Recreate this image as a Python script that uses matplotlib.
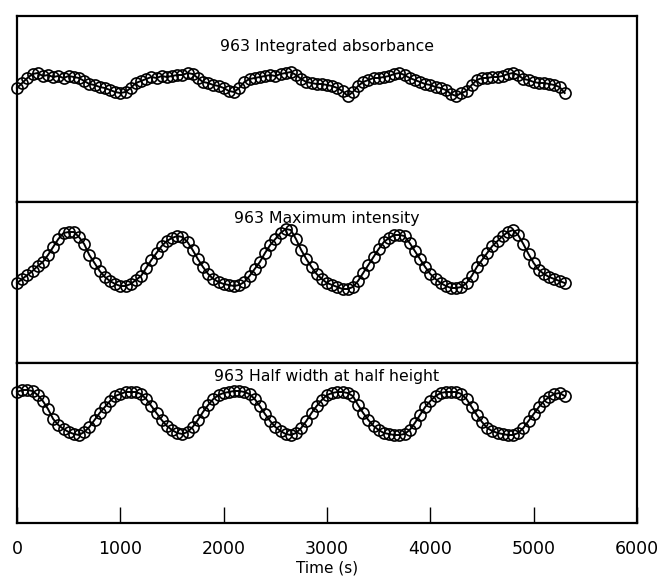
import numpy as np
import matplotlib
matplotlib.use("Agg")
import matplotlib.pyplot as plt

# sampling times (s), one reading every 50 s
time_s = np.arange(0, 5301, 50)

# values (arbitrary units, panel height = 186 / 161 / 160)
integrated_absorbance = [
    114, 119, 124, 128, 129, 126, 127, 125, 126, 124,
    126, 125, 124, 121, 118, 117, 115, 114, 112, 110,
    109, 110, 114, 119, 121, 123, 125, 124, 126, 125,
    126, 127, 127, 129, 128, 124, 120, 119, 117, 116,
    114, 111, 110, 114, 120, 123, 124, 125, 126, 127,
    126, 128, 129, 130, 127, 123, 120, 119, 118, 118,
    117, 116, 114, 111, 106, 110, 116, 120, 122, 124,
    124, 125, 126, 128, 129, 127, 124, 122, 120, 118,
    117, 115, 114, 112, 108, 106, 109, 111, 117, 122,
    124, 124, 125, 125, 126, 128, 129, 127, 123, 122,
    120, 119, 119, 118, 117, 115, 109,
]

maximum_intensity = [
    80, 84, 88, 92, 97, 101, 108, 116, 124, 130,
    131, 131, 126, 119, 108, 100, 92, 86, 82, 79,
    77, 77, 79, 83, 87, 95, 103, 110, 117, 122,
    125, 127, 126, 121, 113, 104, 96, 89, 84, 81,
    79, 78, 77, 78, 81, 87, 94, 101, 110, 118,
    124, 130, 134, 133, 124, 113, 104, 96, 89, 84,
    80, 78, 76, 74, 74, 76, 82, 90, 98, 106,
    114, 121, 125, 128, 128, 127, 120, 112, 104, 96,
    89, 84, 80, 77, 75, 75, 76, 80, 87, 96,
    103, 110, 117, 122, 127, 131, 133, 128, 119, 109,
    100, 93, 89, 86, 84, 82, 80,
]

half_width = [
    131, 133, 133, 132, 128, 122, 114, 104, 98, 94,
    91, 89, 88, 91, 96, 103, 110, 116, 122, 127,
    129, 131, 131, 131, 129, 124, 117, 110, 103, 97,
    93, 90, 89, 91, 96, 103, 111, 118, 124, 128,
    130, 131, 132, 132, 131, 129, 124, 117, 109, 102,
    96, 92, 89, 88, 90, 95, 102, 110, 117, 123,
    128, 130, 131, 131, 130, 127, 118, 110, 103, 97,
    93, 90, 89, 88, 88, 89, 93, 100, 108, 116,
    122, 127, 130, 131, 131, 131, 129, 124, 116, 108,
    101, 95, 92, 90, 89, 88, 88, 90, 95, 102,
    109, 116, 122, 126, 129, 130, 127,
]

panel_titles = ["963 Integrated absorbance", "963 Maximum intensity",
                "963 Half width at half height"]
panel_heights = [186, 161, 160]
xticks = [0, 1000, 2000, 3000, 4000, 5000, 6000]

plt.rcParams['font.family'] = ['DejaVu Sans']

fig = plt.figure(figsize=(6.62, 5.76), dpi=100)
W, H = 662.0, 576.0
left, right = 17 / W, 637 / W
edges = [16, 202, 363, 523]  # panel borders in pixels from top

series = [integrated_absorbance, maximum_intensity, half_width]
title_offsets = [31, 17, 14]

for i in range(3):
    top = 1 - edges[i] / H
    bot = 1 - edges[i + 1] / H
    ax = fig.add_axes([left, bot, right - left, top - bot])
    ax.plot(time_s, series[i], color='black', lw=1.4, marker='o',
            markersize=8, markerfacecolor='none', markeredgecolor='black',
            markeredgewidth=1.2, clip_on=False)
    ax.set_xlim(0, 6000)
    ax.set_ylim(0, panel_heights[i])
    ax.set_yticks([])
    for s in ax.spines.values():
        s.set_linewidth(1.6)
    ax.text(0.5, 1 - title_offsets[i] / panel_heights[i], panel_titles[i],
            transform=ax.transAxes, ha='center', va='center', fontsize=11.3)
    if i < 2:
        ax.set_xticks([])
    else:
        ax.set_xticks(xticks)
        ax.tick_params(axis='x', direction='in', length=11.5, width=1.0,
                       labelsize=12.5, pad=12)
        ax.set_xlabel('Time (s)', fontsize=11, labelpad=2)

fig.savefig('out.png', dpi=100)
